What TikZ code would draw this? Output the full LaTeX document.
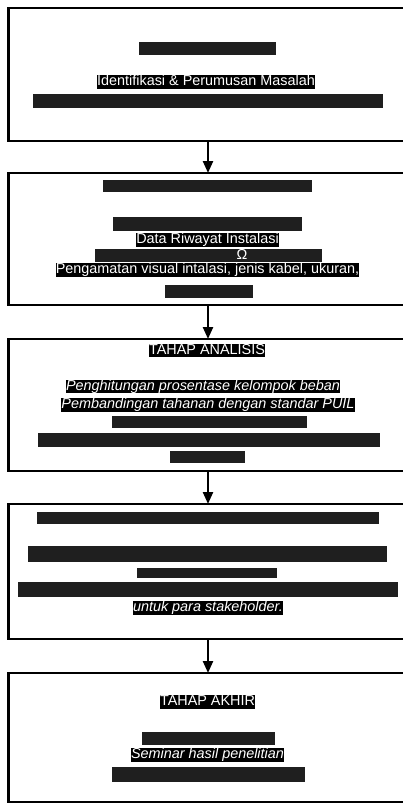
\documentclass[tikz,border=0pt]{standalone}
\usepackage{fontspec}
\setmainfont{Liberation Sans}
\usetikzlibrary{arrows.meta}
\begin{document}
\begin{tikzpicture}[x=1pt,y=-1pt,
  stage/.style={draw=black,line width=2.3pt,minimum width=397.5pt,inner sep=0pt,outer sep=0pt},
  hl/.style={fill=black,text=white,inner sep=0pt,font=\fontsize{14.4}{14.4}\selectfont,text height=10.6pt,text depth=3pt},
  hli/.style={hl,font=\fontsize{14.4}{14.4}\selectfont\itshape},
  bar/.style 2 args={fill=black!88,inner sep=0pt,minimum width=#1,minimum height=#2},
  flow/.style={line width=2.3pt,-{Triangle[width=10pt,length=12pt]}}]
\useasboundingbox (0,0) rectangle (403,803);

% stage boxes
\node[stage,minimum height=133pt] (b1) at (207.25,74.5) {};
\node[stage,minimum height=132pt] (b2) at (207.25,239) {};
\node[stage,minimum height=132pt] (b3) at (207.25,405) {};
\node[stage,minimum height=135pt] (b4) at (207.25,571.5) {};
\node[stage,minimum height=129pt] (b5) at (207.25,737.5) {};

% connectors
\draw[flow] ([xshift=0.75pt]b1.south) -- ([xshift=0.75pt]b2.north);
\draw[flow] ([xshift=0.75pt]b2.south) -- ([xshift=0.75pt]b3.north);
\draw[flow] ([xshift=0.75pt]b3.south) -- ([xshift=0.75pt]b4.north);
\draw[flow] ([xshift=0.75pt]b4.south) -- ([xshift=0.75pt]b5.north);

% box 1
\node[bar={137pt}{13pt}] (g11) at (207.5,48.5) {};
\node[hl] (t12) at (206,82) {Identifikasi \& Perumusan Masalah};
\node[bar={350pt}{14pt}] (g13) at (208,100.5) {};

% box 2
\node[bar={209pt}{12pt}] (g21) at (207.5,186) {};
\node[bar={189pt}{14pt}] (g22) at (207.5,223.5) {};
\node[hl] (t23) at (207.5,240) {Data Riwayat Instalasi};
\node[bar={227pt}{13pt}] (g24) at (208.5,255.5) {};
\node[hl,fill=none] (om) at (242,255.5) {Ω};
\node[hl] (t25) at (207.5,270) {Pengamatan visual intalasi, jenis kabel, ukuran,};
\node[bar={88pt}{13pt}] (g26) at (209,291.5) {};

% box 3
\node[hl] (t31) at (207,350.5) {TAHAP ANALISIS};
\node[hli] (t32) at (203,386.5) {Penghitungan prosentase kelompok beban};
\node[hli] (t33) at (208,405) {Pembandingan tahanan dengan standar PUIL};
\node[bar={195pt}{12pt}] (g34) at (209.5,421.5) {};
\node[bar={342pt}{14pt}] (g35) at (209,440) {};
\node[bar={75pt}{12pt}] (g36) at (207.5,457) {};

% box 4
\node[bar={342pt}{12pt}] (g41) at (208,518) {};
\node[bar={359pt}{16pt}] (g42) at (207.5,553.5) {};
\node[bar={140pt}{10pt}] (g43) at (207,572.5) {};
\node[bar={380pt}{15pt}] (g44) at (208,589.5) {};
\node[hli] (t45) at (208,608) {untuk para stakeholder.};

% box 5
\node[hl] (t51) at (207.5,702) {TAHAP AKHIR};
\node[bar={133pt}{13pt}] (g52) at (208.5,738.5) {};
\node[hli] (t53) at (207.5,755) {Seminar hasil penelitian};
\node[bar={193pt}{15pt}] (g54) at (208.5,774) {};
\end{tikzpicture}
\end{document}
